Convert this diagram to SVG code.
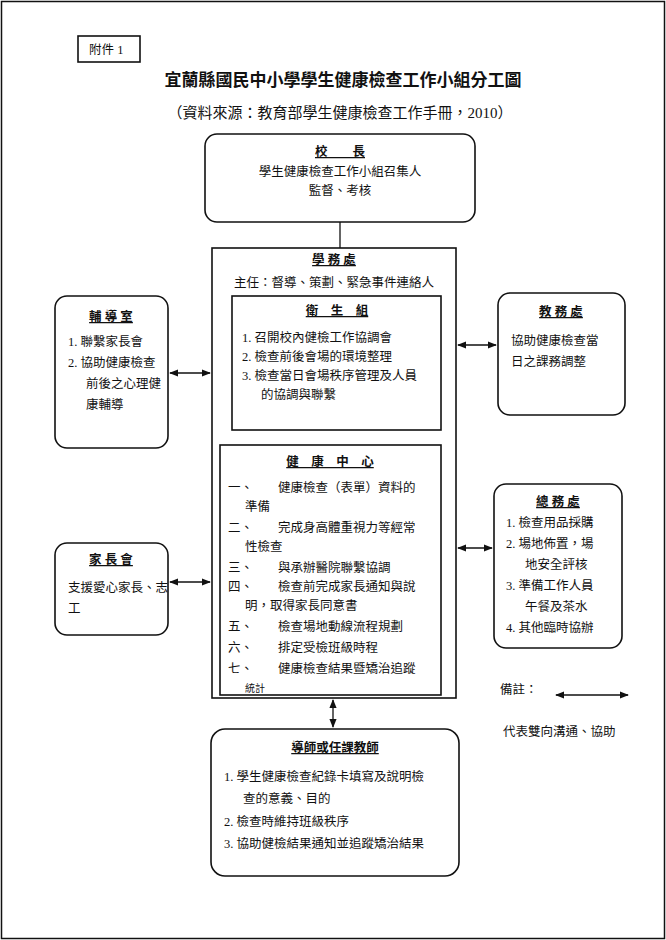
<svg xmlns="http://www.w3.org/2000/svg" width="666" height="940" viewBox="0 0 666 940">
<style>
text{font-family:"Liberation Serif","Noto Sans CJK TC",serif;font-size:12.5px;fill:#111}
.b{fill:#fff;stroke:#111;stroke-width:1.6}
.t{font-weight:bold;text-decoration:underline;text-anchor:middle}
.c{stroke:#111;stroke-width:1.3;fill:none}
</style>
<defs><marker id="a" viewBox="0 0 10 10" refX="9" refY="5" markerWidth="7" markerHeight="7" orient="auto-start-reverse"><path d="M0,1L10,5L0,9z" fill="#111"/></marker></defs>
<rect x="1.5" y="1.5" width="663" height="937" fill="#fff" stroke="#111" stroke-width="1.5"/>
<g id="attach"><rect x="78" y="36" width="62" height="26" class="b" stroke-width="1"/><text x="89" y="54">附件 1</text></g>
<text x="343" y="86" style="font-size:17px;font-weight:bold;text-anchor:middle">宜蘭縣國民中小學學生健康檢查工作小組分工圖</text>
<text x="340" y="118" style="font-size:15px;text-anchor:middle">（資料來源：教育部學生健康檢查工作手冊，2010）</text>
<g id="connectors">
<line x1="340" y1="222" x2="340" y2="248" class="c"/>
<line x1="340" y1="430" x2="340" y2="445" class="c"/>
<line x1="170" y1="373" x2="210" y2="373" class="c" marker-start="url(#a)" marker-end="url(#a)"/>
<line x1="458" y1="345" x2="496" y2="345" class="c" marker-start="url(#a)" marker-end="url(#a)"/>
<line x1="170" y1="582" x2="210" y2="582" class="c" marker-start="url(#a)" marker-end="url(#a)"/>
<line x1="458" y1="548" x2="492" y2="548" class="c" marker-start="url(#a)" marker-end="url(#a)"/>
<line x1="333" y1="700" x2="333" y2="727" class="c" marker-start="url(#a)" marker-end="url(#a)"/>
<line x1="556" y1="695" x2="628" y2="695" class="c" marker-start="url(#a)" marker-end="url(#a)"/>
</g>
<g id="principal"><rect x="205" y="134" width="270" height="88" rx="12" class="b"/>
<text x="340" y="156" class="t">校　　長</text>
<text x="340" y="176" text-anchor="middle">學生健康檢查工作小組召集人</text>
<text x="340" y="195" text-anchor="middle">監督、考核</text></g>
<g id="xuewu"><rect x="212" y="248" width="244" height="450" class="b"/>
<text x="334" y="264" class="t">學 務 處</text>
<text x="334" y="287" text-anchor="middle">主任：督導、策劃、緊急事件連絡人</text></g>
<g id="weisheng"><rect x="232" y="296" width="209" height="134" class="b"/>
<text x="337" y="315" class="t">衛　生　組</text>
<text x="242" y="342">1.  召開校內健檢工作協調會</text>
<text x="242" y="361">2.  檢查前後會場的環境整理</text>
<text x="242" y="380">3.  檢查當日會場秩序管理及人員</text>
<text x="261" y="399">的協調與聯繫</text></g>
<g id="health"><rect x="220" y="445" width="221" height="250" class="b"/>
<text x="330" y="466" class="t">健　康　中　心</text>
<text x="228" y="492">一、　　健康檢查（表單）資料的</text>
<text x="245" y="511">準備</text>
<text x="228" y="532">二、　　完成身高體重視力等經常</text>
<text x="245" y="551">性檢查</text>
<text x="228" y="572">三、　　與承辦醫院聯繫協調</text>
<text x="228" y="591">四、　　檢查前完成家長通知與說</text>
<text x="245" y="610">明，取得家長同意書</text>
<text x="228" y="631">五、　　檢查場地動線流程規劃</text>
<text x="228" y="652">六、　　排定受檢班級時程</text>
<text x="228" y="673">七、　　健康檢查結果暨矯治追蹤</text>
<text x="245" y="692" style="font-size:10px">統計</text></g>
<g id="fudao"><rect x="55" y="296" width="113" height="152" rx="12" class="b"/>
<text x="111" y="321" class="t">輔 導 室</text>
<text x="68" y="346">1.  聯繫家長會</text>
<text x="68" y="367">2.  協助健康檢查</text>
<text x="86" y="388">前後之心理健</text>
<text x="86" y="409">康輔導</text></g>
<g id="jiaowu"><rect x="498" y="293" width="127" height="122" rx="12" class="b"/>
<text x="561" y="316" class="t">教 務 處</text>
<text x="511" y="345">協助健康檢查當</text>
<text x="511" y="366">日之課務調整</text></g>
<g id="parents"><rect x="55" y="543" width="113" height="92" rx="12" class="b"/>
<text x="111" y="564" class="t">家 長 會</text>
<text x="68" y="592">支援愛心家長、志</text>
<text x="68" y="613">工</text></g>
<g id="zongwu"><rect x="494" y="484" width="128" height="164" rx="12" class="b"/>
<text x="558" y="506" class="t">總 務 處</text>
<text x="506" y="527">1.  檢查用品採購</text>
<text x="506" y="548">2.  場地佈置，場</text>
<text x="525" y="569">地安全評核</text>
<text x="506" y="590">3.  準備工作人員</text>
<text x="525" y="611">午餐及茶水</text>
<text x="506" y="632">4.  其他臨時協辦</text></g>
<g id="teacher"><rect x="211" y="729" width="248" height="147" rx="14" class="b"/>
<text x="335" y="752" class="t">導師或任課教師</text>
<text x="224" y="781">1.  學生健康檢查紀錄卡填寫及說明檢</text>
<text x="243" y="803">查的意義、目的</text>
<text x="224" y="826">2.  檢查時維持班級秩序</text>
<text x="224" y="848">3.  協助健檢結果通知並追蹤矯治結果</text></g>
<g id="legend"><text x="500" y="694">備註：</text>
<text x="503" y="736">代表雙向溝通、協助</text></g>
</svg>
